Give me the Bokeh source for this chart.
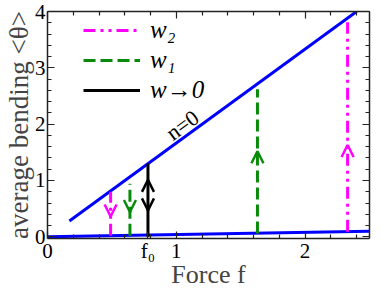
import math
from bokeh.plotting import figure
from bokeh.models import (Range1d, SingleIntervalTicker, FixedTicker, LinearAxis, Legend, LegendItem,
                          Arrow, OpenHead, Label, CustomJSTickFormatter, ColumnDataSource)
from bokeh.embed import file_html
from bokeh.resources import INLINE

# ---------------- data ----------------
upper_f = [0.17, 2.40]          # n=0 branch
upper_theta = [0.28, 4.00]
lower_f = [0.0, 2.5]            # lower branch
lower_theta = [0.0, 0.10]

f0 = 0.78
w0_f = [f0]
w0_bottom = [0.0]
w0_top = [1.30]

w1_f = [0.64, 1.63]
w1_bottom = [0.02, 0.06]
w1_top = [0.94, 2.62]

w2_f = [0.49, 2.33]
w2_bottom = [0.02, 0.09]
w2_top = [0.80, 3.81]

# arrow heads: position of tip and direction (+1 up, -1 down)
w0_arrow_f = [f0, f0]
w0_arrow_tip = [1.01, 0.47]
w0_arrow_dir = [1, -1]
w1_arrow_f = [0.64, 1.63]
w1_arrow_tip = [0.44, 1.52]
w1_arrow_dir = [-1, 1]
w2_arrow_f = [0.49, 2.33]
w2_arrow_tip = [0.36, 1.63]
w2_arrow_dir = [-1, 1]

x_major_ticks = [0, f0, 1, 2]
x_major_labels = {f0: "f\u2080"}
x_minor_ticks = [0.2, 0.4, 0.6, 0.8, 1.2, 1.4, 1.6, 1.8, 2.2, 2.4]
y_major_interval = 1
legend_labels = ["w\u2082", "w\u2081", "w\u21920"]

# ---------------- figure ----------------
W, H = 374, 291
BL, BR, BT, BB = 45, 5, 11, 52
FW, FH = W - BL - BR, H - BT - BB
X0, X1 = 0.0, 2.5
Y0, Y1 = -0.03, 4.0
SERIF = "Liberation Serif"

p = figure(width=W, height=H, output_backend="svg", toolbar_location=None,
           x_range=Range1d(X0, X1), y_range=Range1d(Y0, Y1),
           min_border_left=BL, min_border_right=BR, min_border_top=BT, min_border_bottom=BB)
p.xgrid.grid_line_color = None
p.ygrid.grid_line_color = None
p.outline_line_color = None
p.background_fill_color = "white"
p.border_fill_color = "white"

def style_axis(ax, ticker, labels=True):
    ax.ticker = ticker
    ax.axis_line_color = "#222222"
    ax.axis_line_width = 1.5
    ax.major_tick_in = 7
    ax.major_tick_out = 0
    ax.minor_tick_in = 4
    ax.minor_tick_out = 0
    ax.major_tick_line_color = "#222222"
    ax.minor_tick_line_color = "#222222"
    ax.major_tick_line_width = 1.2
    ax.minor_tick_line_width = 1.2
    if labels:
        ax.major_label_text_font = SERIF
        ax.major_label_text_font_size = "21px"
        ax.major_label_text_color = "black"
        ax.major_label_standoff = 2
    else:
        ax.formatter = CustomJSTickFormatter(code="return ''")
        ax.major_label_text_font_size = "1px"
        ax.major_label_standoff = 0

x_ticker = FixedTicker(ticks=x_major_ticks, minor_ticks=x_minor_ticks)
style_axis(p.xaxis[0], x_ticker)
p.xaxis[0].major_label_overrides = x_major_labels
p.xaxis[0].major_label_standoff = 0
p.xaxis[0].axis_label = "Force f"
p.xaxis[0].axis_label_text_font = SERIF
p.xaxis[0].axis_label_text_font_size = "26px"
p.xaxis[0].axis_label_text_font_style = "normal"
p.xaxis[0].axis_label_standoff = -6

style_axis(p.yaxis[0], SingleIntervalTicker(interval=y_major_interval, num_minor_ticks=5))
p.yaxis[0].axis_label = "average bending <\u03b8>"
p.yaxis[0].axis_label_text_font = SERIF
p.yaxis[0].axis_label_text_font_size = "27px"
p.yaxis[0].axis_label_text_font_style = "normal"
p.yaxis[0].axis_label_standoff = -2

top_ax = LinearAxis()
style_axis(top_ax, FixedTicker(ticks=[0, 1, 2], minor_ticks=x_minor_ticks + [0.8]), labels=False)
p.add_layout(top_ax, "above")
right_ax = LinearAxis()
style_axis(right_ax, SingleIntervalTicker(interval=y_major_interval, num_minor_ticks=5), labels=False)
p.add_layout(right_ax, "right")

# ---------------- glyphs ----------------
BLUE, GREEN, MAGENTA = "#0000ff", "#0a8a0a", "#ff00ff"

p.line(upper_f, upper_theta, line_color=BLUE, line_width=3)
p.line(lower_f, lower_theta, line_color=BLUE, line_width=3)

r_w2 = p.segment(x0="f", y0="b", x1="f", y1="t",
                 source=ColumnDataSource(dict(f=w2_f, b=w2_bottom, t=w2_top)),
                 line_color=MAGENTA, line_width=3, line_dash="12 5 3 5 3 5")
r_w1 = p.segment(x0="f", y0="b", x1="f", y1="t",
                 source=ColumnDataSource(dict(f=w1_f, b=w1_bottom, t=w1_top)),
                 line_color=GREEN, line_width=3, line_dash="12 5")
r_w0 = p.segment(x0="f", y0="b", x1="f", y1="t",
                 source=ColumnDataSource(dict(f=w0_f, b=w0_bottom, t=w0_top)),
                 line_color="black", line_width=3)

def add_heads(fs, tips, dirs, color):
    eps = 0.05
    src = ColumnDataSource(dict(x=fs, ye=tips, ys=[t - d * eps for t, d in zip(tips, dirs)]))
    a = Arrow(end=OpenHead(size=12, line_color=color, line_width=2.5),
              x_start="x", y_start="ys", x_end="x", y_end="ye", source=src,
              line_alpha=0)
    p.add_layout(a)

add_heads(w2_arrow_f, w2_arrow_tip, w2_arrow_dir, MAGENTA)
add_heads(w1_arrow_f, w1_arrow_tip, w1_arrow_dir, GREEN)
add_heads(w0_arrow_f, w0_arrow_tip, w0_arrow_dir, "black")

# ---------------- legend ----------------
legend = Legend(items=[LegendItem(label=legend_labels[0], renderers=[r_w2]),
                       LegendItem(label=legend_labels[1], renderers=[r_w1]),
                       LegendItem(label=legend_labels[2], renderers=[r_w0])],
                location=(36, FH - 7 - 87), orientation="vertical",
                glyph_width=57, glyph_height=20, label_standoff=10,
                label_text_font=SERIF, label_text_font_size="25px",
                label_text_font_style="italic", label_text_color="black",
                spacing=2, padding=0, margin=0,
                border_line_alpha=0, background_fill_alpha=0)
p.add_layout(legend)

# ---------------- texts ----------------
px_x = FW / (X1 - X0)
px_y = FH / (Y1 - Y0)
slope = (upper_theta[1] - upper_theta[0]) / (upper_f[1] - upper_f[0])
ang = math.atan(slope * px_y / px_x)
n_f = 0.99
n_theta = upper_theta[0] + slope * (n_f - upper_f[0])
p.add_layout(Label(x=n_f, y=n_theta, text="n=0", angle=ang,
                   x_offset=-11 * math.sin(ang), y_offset=11 * math.cos(ang),
                   text_font=SERIF, text_font_size="22px", text_color="black",
                   text_align="left", text_baseline="alphabetic"))

open("out.html", "w").write(file_html(p, INLINE))
